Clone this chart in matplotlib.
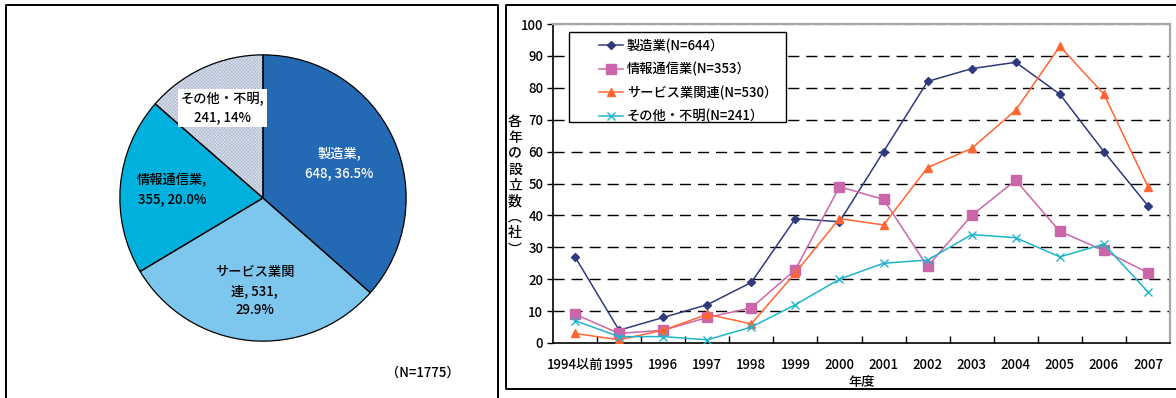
import matplotlib
matplotlib.use("Agg")
import matplotlib.pyplot as plt
from matplotlib.lines import Line2D
from matplotlib.patches import Rectangle
import numpy as np

plt.rcParams['font.family'] = ['Noto Sans CJK JP', 'DejaVu Sans']
plt.rcParams['hatch.linewidth'] = 0.5

# ---- pie data ----
pie_labels = ['製造業', 'サービス業関連', '情報通信業', 'その他・不明']
pie_text = ['製造業,\n648, 36.5%', 'サービス業関\n連, 531,\n29.9%',
            '情報通信業,\n355, 20.0%', 'その他・不明,\n241, 14%']
pie_values = [648, 531, 355, 241]
pie_colors = ['#2469B3', '#7DC6EE', '#00B0DD', '#DCE2EE']
pie_text_colors = ['white', 'black', 'black', 'black']
pie_label_radius = [0.585, 0.65, 0.64, 0.69]
pie_total_label = '（N=1775）'

# ---- line chart data ----
years = ['1994以前', '1995', '1996', '1997', '1998', '1999', '2000',
         '2001', '2002', '2003', '2004', '2005', '2006', '2007']
manufacturing = [27, 4, 8, 12, 19, 39, 38, 60, 82, 86, 88, 78, 60, 43]
ict = [9, 3, 4, 8, 11, 23, 49, 45, 24, 40, 51, 35, 29, 22]
services = [3, 1, 4, 9, 6, 22, 39, 37, 55, 61, 73, 93, 78, 49]
other = [7, 2, 2, 1, 5, 12, 20, 25, 26, 34, 33, 27, 31, 16]
series_names = ['製造業(N=644）', '情報通信業(N=353）',
                'サービス業関連(N=530）', 'その他・不明(N=241）']
y_label = '各年の設立数︵社︶'
x_label = '年度'

W, H = 1176, 398
fig = plt.figure(figsize=(W / 100, H / 100), dpi=100)


def fx(px):
    return px / W


def fy(py):
    return 1 - py / H


# panel frames
for xs, ys in [([6, 6, 498, 498], [H, 5, 5, H]),
               ([W, 506, 506, W], [5, 5, 389, 389])]:
    fig.add_artist(Line2D([fx(v) for v in xs], [fy(v) for v in ys],
                          color='black', lw=1.4, transform=fig.transFigure))

# ---- pie ----
cx, cy, r = 263, 198, 146
axp = fig.add_axes([fx(cx - r), fy(cy + r), 2 * r / W, 2 * r / H])
wedges, _ = axp.pie(pie_values, colors=pie_colors, startangle=90,
                    counterclock=False, radius=1,
                    wedgeprops=dict(linewidth=0, edgecolor='none'))
wedges[3].set_hatch('xxxxxxxxxx')
wedges[3].set_edgecolor('#B4BFD3')
wedges[3].set_linewidth(0)
axp.pie(pie_values, startangle=90, counterclock=False, radius=1,
        wedgeprops=dict(fill=False, linewidth=0.9, edgecolor='black'))
axp.set_xlim(-1.02, 1.02)
axp.set_ylim(-1.02, 1.02)
axp.set_aspect('equal')
axp.axis('off')

for w, txt, col, rad in zip(wedges, pie_text, pie_text_colors, pie_label_radius):
    ang = np.deg2rad((w.theta1 + w.theta2) / 2)
    kw = {}
    if txt.startswith('その他'):
        kw['bbox'] = dict(facecolor='white', edgecolor='none', pad=2.0)
    axp.text(rad * np.cos(ang), rad * np.sin(ang), txt, ha='center',
             va='center', color=col, fontsize=9.5, linespacing=1.45,
             fontweight='medium', **kw)

fig.text(fx(423), fy(373), pie_total_label, ha='center', va='center',
         fontsize=9.5, fontweight='medium')

# ---- line chart ----
ax = fig.add_axes([fx(553), fy(343), (1170 - 553) / W, (343 - 24) / H])
x = np.arange(len(years))
styles = [
    (manufacturing, '#2E3A7C', 'D', 4.5),
    (ict, '#CC66AA', 's', 7),
    (services, '#FF6633', '^', 6),
    (other, '#1FB4CC', 'x', 6),
]
handles = []
for (vals, col, mk, ms), name in zip(styles, series_names):
    h, = ax.plot(x, vals, color=col, lw=1.1, marker=mk, markersize=ms,
                 markerfacecolor=col, markeredgecolor=col,
                 markeredgewidth=1.0, label=name, zorder=3)
    handles.append(h)

ax.set_xlim(-0.5, len(years) - 0.5)
ax.set_ylim(0, 100)
ax.set_yticks(np.arange(0, 101, 10))
for v in range(10, 100, 10):
    ax.axhline(v, color='black', lw=1.0, dashes=(8, 5), zorder=1)
ax.axhline(100, color='#A0A0A0', lw=1.0, dashes=(8, 3), zorder=1)

ax.set_xticks(x)
ax.set_xticklabels(years, fontweight='medium')
ax.set_xticks(np.arange(0.5, len(years) - 0.5, 1), minor=True)
ax.tick_params(axis='x', which='major', length=0, pad=11, labelsize=9.5)
ax.tick_params(axis='x', which='minor', direction='in', length=5, width=1)
ax.tick_params(axis='y', which='major', direction='out', length=4,
               width=1, pad=3, labelsize=9.5)
for t in ax.get_yticklabels():
    t.set_fontweight('medium')

for s in ['left', 'bottom']:
    ax.spines[s].set_color('black')
    ax.spines[s].set_linewidth(1.2)
for s in ['top', 'right']:
    ax.spines[s].set_color('#A8A8A8')
    ax.spines[s].set_linewidth(1.6)

# legend box
fig.add_artist(Rectangle((fx(569), fy(122)), (786 - 569) / W, (122 - 32) / H,
                         transform=fig.transFigure, facecolor='white',
                         edgecolor='black', lw=1.0, zorder=4))
leg = fig.legend(handles=handles, loc='upper left',
                 bbox_to_anchor=(fx(590), fy(29)), frameon=False,
                 prop=dict(size=9.5, weight='medium'), handlelength=1.8,
                 handletextpad=0.3, labelspacing=0.68, borderpad=0.2)
leg.set_zorder(5)

fig.text(fx(515), fy(185.5), '\n'.join(y_label), ha='center', va='center',
         fontsize=10, linespacing=1.18, fontweight='medium')
fig.text(fx(862), fy(382), x_label, ha='center', va='center', fontsize=9.5,
         fontweight='medium')

fig.savefig('out.png', dpi=100)
